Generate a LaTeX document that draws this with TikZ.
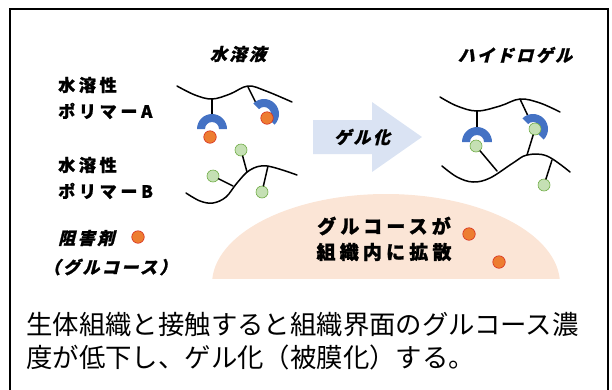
\documentclass[tikz,border=0pt]{standalone}
\usepackage{fontspec}
\setmainfont{Noto Sans CJK JP}
\newfontfamily\jplabel{Noto Sans CJK JP}[LetterSpace=22,FakeBold=1.2]
\newfontfamily\jpslant{Noto Sans CJK JP}[FakeSlant=0.25,LetterSpace=15,FakeBold=1.2]
\usepackage{xcolor}
\usetikzlibrary{positioning}

\definecolor{recblue}{HTML}{4472C4}
\definecolor{gluorange}{HTML}{ED7D31}
\definecolor{glurim}{HTML}{D62A1E}
\definecolor{sidegreen}{HTML}{C5E0B4}
\definecolor{siderim}{HTML}{70AD47}
\definecolor{arrowblue}{HTML}{DAE3F3}
\definecolor{tissue}{HTML}{FBE5D6}

\begin{document}
\begin{tikzpicture}[x=1pt, y=-1pt,
    chain/.style={line width=1.5pt, line cap=round},
    glu/.style={circle, fill=gluorange, draw=glurim, line width=0.6pt, minimum size=12.5pt, inner sep=0pt},
    side/.style={circle, fill=sidegreen, draw=siderim, line width=0.6pt, minimum size=12pt, inner sep=0pt},
    lbl/.style={anchor=west, inner sep=0pt, font=\fontsize{17}{20}\jplabel\bfseries},
    slant/.style={inner sep=0pt, font=\fontsize{17}{20}\jpslant\bfseries},
    recep/.pic={\fill[recblue] (180:15) arc[start angle=180, end angle=360, radius=15]
        -- (0:7) arc[start angle=0, end angle=-180, radius=7] -- cycle;}]
    \useasboundingbox (0,0) rectangle (612,389);

    % frame (open at the bottom)
    \draw[line width=1.8pt] (10,395) -- (10,9) -- (608,9) -- (608,395);

    % tissue
    \begin{scope}
        \clip (200,180) rectangle (570,278);
        \fill[tissue] (386,284) ellipse[x radius=174, y radius=90];
    \end{scope}

    % headings
    \node[slant] (sol) at (238,54) {水溶液};
    \node[slant] (gel) at (515,55) {ハイドロゲル};

    % legend
    \node[lbl] (aw) at (58,85) {水溶性};
    \node[lbl] (an) at (58,111) {ポリマーA};
    \node[lbl] (bw) at (58,165) {水溶性};
    \node[lbl] (bn) at (58,191) {ポリマーB};
    \node[slant, anchor=west] (inh) at (58,238) {阻害剤};
    \node[glu] (inhdot) at (138,237) {};
    \node[slant] (inhsub) at (110,267) {（グルコース）};

    % polymer A in solution
    \draw[chain] plot[smooth, tension=0.6] coordinates {(177,86) (195,95) (212,99) (230,94) (248,86) (266,91) (292,102)};
    \draw[chain] (212,99) -- (212,116);
    \draw[chain] (248,87) -- (256,103);
    \pic at (212,129) {recep};
    \pic[rotate=-45] at (264,114) {recep};
    \node[glu] (a1) at (210,137) {};
    \node[glu] (a2) at (267,118) {};

    % polymer B in solution
    \draw[chain] plot[smooth, tension=0.6] coordinates {(186,193) (200,201) (213,203) (226,197) (237,183) (250,170) (267,166) (297,175)};
    \node[side] (b1) at (241,150) {};
    \node[side] (b2) at (213,176) {};
    \node[side] (b3) at (262,192) {};
    \draw[chain] (247,172) -- (b1);
    \draw[chain] (233,186) -- (b2);
    \draw[chain] (268,166) -- (b3);

    % gelation arrow
    \fill[arrowblue] (313,120) -- (372,120) -- (372,102) -- (422,137) -- (372,172) -- (372,154) -- (313,154) -- cycle;
    \node[slant] (gelify) at (362,137) {ゲル化};

    % hydrogel network
    \draw[chain] plot[smooth, tension=0.6] coordinates {(440,97) (457,106) (477,111) (500,106) (520,99) (540,103) (560,112)};
    \draw[chain] plot[smooth, tension=0.6] coordinates {(442,166) (457,177) (473,182) (490,178) (513,163) (527,155) (547,156) (570,172)};
    \draw[chain] (477,111) -- (477,128);
    \draw[chain] (520,99) -- (528,116);
    \pic at (477,142) {recep};
    \pic[rotate=-45] at (533,129) {recep};
    \node[side] (h1) at (476,146) {};
    \node[side] (h2) at (535,129) {};
    \node[side] (h3) at (544,185) {};
    \draw[chain] (h1) -- (497,171);
    \draw[chain] (h2) -- (527,155);
    \draw[chain] (552,160) -- (h3);

    % glucose leaving into the tissue
    \node[inner sep=0pt, font=\fontsize{19}{22}\jplabel\bfseries] (diff1) at (384,226) {グルコースが};
    \node[inner sep=0pt, font=\fontsize{19}{22}\jplabel\bfseries] (diff2) at (384,252) {組織内に拡散};
    \node[glu] (d1) at (469,234) {};
    \node[glu] (d2) at (499,262) {};

    % caption
    \node[anchor=west, inner sep=0pt, font=\fontsize{26.4}{32}\selectfont] (cap1) at (26,325) {生体組織と接触すると組織界面のグルコース濃};
    \node[anchor=west, inner sep=0pt, font=\fontsize{26.4}{32}\selectfont] (cap2) at (26,357) {度が低下し、ゲル化（被膜化）する。};
\end{tikzpicture}
\end{document}
